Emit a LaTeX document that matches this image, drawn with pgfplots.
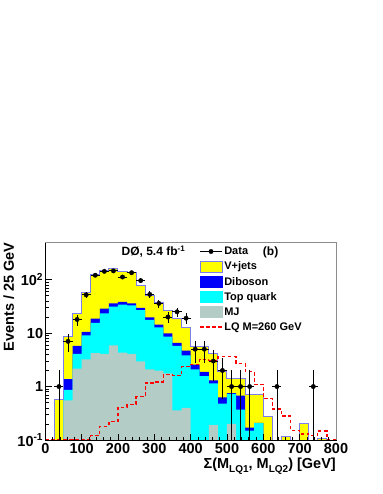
\documentclass[border=0pt]{standalone}
\usepackage{fontspec}
\setmainfont{Liberation Sans}
\usepackage{pgfplots}
\usepackage{pgfplotstable}
\pgfplotsset{compat=1.18}

\definecolor{mjgray}{RGB}{179,204,197}
\definecolor{vjline}{RGB}{125,125,235}
\definecolor{dibblue}{RGB}{0,0,250}
\definecolor{vjyellow}{RGB}{255,255,0}
\definecolor{topcyan}{RGB}{0,255,255}
\definecolor{lqred}{RGB}{255,0,0}

% stacked histograms, cumulative from the bottom (MJ, +top, +diboson, +V+jets)
% x = left bin edge, 1e-5 = empty bin
\pgfplotstableread{
x   mj    top   dib   tot   lq
0   1e-5  1e-5  1e-5  1e-5  0.101
25  1e-5  1e-5  1e-5  0.58  0.101
50  0.55  0.87  1.37  8.6   0.101
75  2.17  4.08  5.75  23.5  0.101
100 3.24  9.1   10.5  57    0.101
125 4.2   15.5  18.7  124   0.12
150 4.08  23.5  28.7  151   0.18
175 5.9   31.3  36    161   0.22
200 4.3   34    38.3  143   0.41
225 4.08  33    36    139   0.46
250 2.97  27    29.5  78    0.65
275 2.1   17.6  19.8  51    1.17
300 1.99  12.8  14.4  37    1.22
325 1.77  8.6   9.9   27    1.67
350 0.36  5.75  6.6   18.7  1.6
375 0.4   3.85  4.7   12.5  2.35
400 1e-5  2.1   2.58  5.6   2.6
425 1e-5  1.56  1.89  5.6   3.25
450 0.19  1.15  1.3   4.08  3.1
475 1e-5  0.48  0.63  1.9   3.64
500 0.2   0.73  0.75  1.42  3.64
525 1e-5  0.37  0.68  1.42  2.7
550 1e-5  0.15  0.17  0.70  1.9
575 1e-5  0.207 0.21  0.70  1.1
600 1e-5  1e-5  1e-5  0.27  0.6
625 1e-5  1e-5  1e-5  1e-5  0.38
650 1e-5  1e-5  1e-5  0.115 0.28
675 1e-5  1e-5  1e-5  1e-5  0.15
700 1e-5  1e-5  1e-5  0.2   0.13
725 1e-5  1e-5  1e-5  1e-5  0.12
750 1e-5  1e-5  1e-5  0.105 0.148
775 1e-5  1e-5  1e-5  1e-5  0.101
800 1e-5  1e-5  1e-5  1e-5  0.101
}\stack

\pgfplotstableread{
x     y    ex    ep    em
37.5  1    12.5  1     0.999
62.5  7    12.5  2.65  2.65
87.5  18   12.5  4.24  4.24
112.5 52   12.5  7.21  7.21
137.5 121  12.5  11    11
162.5 143  12.5  11.96 11.96
187.5 146  12.5  12.08 12.08
212.5 112  12.5  10.58 10.58
237.5 135  12.5  11.62 11.62
262.5 96   12.5  9.8   9.8
287.5 53   12.5  7.28  7.28
312.5 36   12.5  6     6
337.5 20   12.5  4.47  4.47
362.5 25   12.5  5     5
387.5 19   12.5  4.36  4.36
412.5 5    12.5  2.24  2.24
437.5 5    12.5  2.24  2.24
462.5 3    12.5  1.73  1.73
487.5 2    12.5  1.41  1.41
512.5 1    12.5  1     0.999
537.5 1    12.5  1     0.999
562.5 1    12.5  1     0.999
637.5 1    12.5  1     0.999
737.5 1    12.5  1     0.999
}\data

\newcommand{\sub}[1]{\raisebox{-4pt}{\fontsize{10}{10}\selectfont #1}}

\begin{document}
\begin{tikzpicture}
\useasboundingbox (-45.3pt,-54pt) rectangle (336.7pt,440pt);
\begin{axis}[
  name=ax, at={(0,0)}, anchor=south west,
  scale only axis, width=290.7pt, height=197.7pt,
  ymode=log, log origin=infty,
  xmin=0, xmax=800, ymin=0.1, ymax=500,
  axis on top,
  xtick={0,100,...,800}, minor x tick num=4,
  ytick={0.1,1,10,100},
  yticklabels={10\textsuperscript{-1},1,10,10\textsuperscript{2}},
  xtick pos=left, ytick pos=left,
  major tick length=6.5pt, minor tick length=3.3pt,
  tick style={black, line width=0.6pt},
  axis line style={black, line width=0.9pt},
  /pgf/number format/assume math mode=true,
  tick label style={font=\fontsize{14.5}{16}\selectfont\bfseries},
  yticklabel style={inner sep=1pt, xshift=-1pt},
  xticklabel style={inner sep=3pt},
  label style={font=\fontsize{14.5}{16}\selectfont\bfseries},
  xlabel={Σ(M\sub{LQ1}, M\sub{LQ2}) [GeV]},
  xlabel style={at={(axis description cs:1,-0.09)}, anchor=north east, inner sep=0pt},
  ylabel={Events / 25 GeV},
  ylabel style={at={(axis description cs:-0.145,1)}, anchor=north east, inner sep=0pt},
  legend style={at={(axis description cs:0.529,0.985)}, anchor=north west,
    draw=none, fill=none, inner sep=0pt,
    font=\fontsize{11}{12}\selectfont\bfseries, row sep=2.8pt,
    nodes={inner sep=1.5pt}},
  legend cell align=left,
]
\addplot[ybar interval, fill=vjyellow, draw=none, forget plot] table[x=x,y=tot] {\stack};
\addplot[ybar interval, fill=dibblue, draw=none, forget plot] table[x=x,y=dib] {\stack};
\addplot[ybar interval, fill=topcyan, draw=none, forget plot] table[x=x,y=top] {\stack};
\addplot[ybar interval, fill=mjgray, draw=none, forget plot] table[x=x,y=mj] {\stack};
\addplot[const plot, vjline, line width=1pt, forget plot] table[x=x,y=tot] {\stack};
\addplot[const plot, lqred, line width=1.3pt, dash pattern=on 3.5pt off 2.5pt, forget plot] table[x=x,y=lq] {\stack};
\addplot[only marks, mark=*, mark size=2.2pt, black, forget plot,
  error bars/.cd, x dir=both, x explicit, y dir=both, y explicit,
  error mark=none, error bar style={line width=0.8pt, black}]
  table[x=x, y=y, x error=ex, y error plus=ep, y error minus=em] {\data};

\addlegendimage{legend image code/.code={
  \draw[black, line width=0.8pt] (0pt,0pt) -- (22pt,0pt);
  \fill[black] (11pt,0pt) circle (2.2pt);}}
\addlegendentry{Data}
\addlegendimage{legend image code/.code={
  \draw[fill=vjyellow, draw=vjline, line width=0.9pt] (0pt,-5.5pt) rectangle (22pt,5.5pt);}}
\addlegendentry{V+jets}
\addlegendimage{legend image code/.code={
  \fill[dibblue] (0pt,-5.5pt) rectangle (22pt,5.5pt);}}
\addlegendentry{Diboson}
\addlegendimage{legend image code/.code={
  \fill[topcyan] (0pt,-5.5pt) rectangle (22pt,5.5pt);}}
\addlegendentry{Top quark}
\addlegendimage{legend image code/.code={
  \fill[mjgray] (0pt,-5.5pt) rectangle (22pt,5.5pt);}}
\addlegendentry{MJ}
\addlegendimage{legend image code/.code={
  \draw[lqred, line width=1.5pt, dash pattern=on 3.5pt off 2.5pt] (0pt,0pt) -- (22pt,0pt);}}
\addlegendentry{LQ M=260 GeV}

\node[anchor=base west, inner sep=0pt, font=\fontsize{12}{12}\selectfont\bfseries]
  at (axis description cs:0.262,0.931) {DØ, 5.4 fb\textsuperscript{-1}};
\node[anchor=base west, inner sep=0pt, font=\fontsize{12}{12}\selectfont\bfseries]
  at (axis description cs:0.748,0.935) {(b)};
\end{axis}
\draw[black!45, line width=0.9pt] (ax.north west) -- (ax.north east) -- (ax.south east);
\end{tikzpicture}
\end{document}
